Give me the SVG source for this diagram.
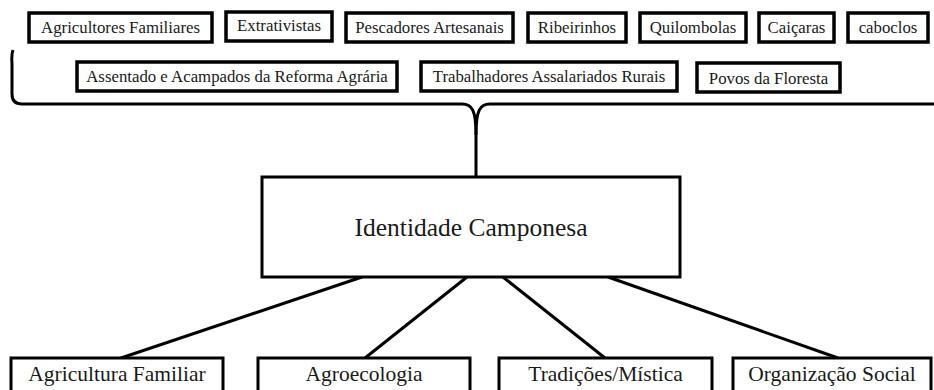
<svg xmlns="http://www.w3.org/2000/svg" width="934" height="390" viewBox="0 0 934 390">
<style>
.b{fill:#fff;stroke:#000;stroke-width:3.5}
.bb{fill:#fff;stroke:#000;stroke-width:3}
text{font-family:'Liberation Serif','Times New Roman','DejaVu Serif',serif;fill:#1a1a1a;text-anchor:middle}
.s{font-size:16.8px}
.m{font-size:21.5px}
.l{font-size:25.5px}
.c{fill:none;stroke:#000;stroke-width:3}
</style>
<rect width="934" height="390" fill="#fff"/>
<g id="connectors">
<path class="c" d="M13,50 C11,55 12,60 12,65 L12,94 Q12,104 22,104 L462,104 C472,104 476,110 476,135 L476,176"/>
<path class="c" d="M934,104 L490,104 C480,104 476,110 476,135"/>
<line class="c" x1="362" y1="277" x2="121" y2="358"/>
<line class="c" x1="467" y1="277" x2="365" y2="358"/>
<line class="c" x1="503" y1="277" x2="605" y2="358"/>
<line class="c" x1="608" y1="277" x2="838" y2="358"/>
</g>
<g id="n1"><rect class="b" x="29" y="13" width="183" height="29"/><text class="s" x="120.5" y="33">Agricultores Familiares</text></g>
<g id="n2"><rect class="b" x="226" y="12" width="106" height="29"/><text class="s" x="279" y="31">Extrativistas</text></g>
<g id="n3"><rect class="b" x="346" y="13" width="167" height="29"/><text class="s" x="429.5" y="33">Pescadores Artesanais</text></g>
<g id="n4"><rect class="b" x="528" y="13" width="98" height="29"/><text class="s" x="577" y="33">Ribeirinhos</text></g>
<g id="n5"><rect class="b" x="640" y="13" width="106" height="29"/><text class="s" x="693" y="33">Quilombolas</text></g>
<g id="n6"><rect class="b" x="759" y="13" width="75" height="29"/><text class="s" x="796.5" y="33">Caiçaras</text></g>
<g id="n7"><rect class="b" x="848" y="13" width="80" height="29"/><text class="s" x="888" y="33">caboclos</text></g>
<g id="n8"><rect class="b" x="77" y="62" width="320" height="29"/><text class="s" x="237" y="82">Assentado e Acampados da Reforma Agrária</text></g>
<g id="n9"><rect class="b" x="421" y="62" width="256" height="29"/><text class="s" x="549" y="82">Trabalhadores Assalariados Rurais</text></g>
<g id="n10"><rect class="b" x="697" y="63" width="143" height="29"/><text class="s" x="768.5" y="84">Povos da Floresta</text></g>
<g id="center"><rect class="bb" x="262" y="177" width="418" height="100"/><text class="l" x="471" y="236">Identidade Camponesa</text></g>
<g id="b1"><rect class="bb" x="11" y="358" width="212" height="40"/><text class="m" x="117" y="381">Agricultura Familiar</text></g>
<g id="b2"><rect class="bb" x="258" y="358" width="212" height="40"/><text class="m" x="364" y="381">Agroecologia</text></g>
<g id="b3"><rect class="bb" x="499" y="358" width="213" height="40"/><text class="m" x="605.5" y="381">Tradições/Mística</text></g>
<g id="b4"><rect class="bb" x="733" y="358" width="198" height="40"/><text class="m" x="832" y="381">Organização Social</text></g>
</svg>
